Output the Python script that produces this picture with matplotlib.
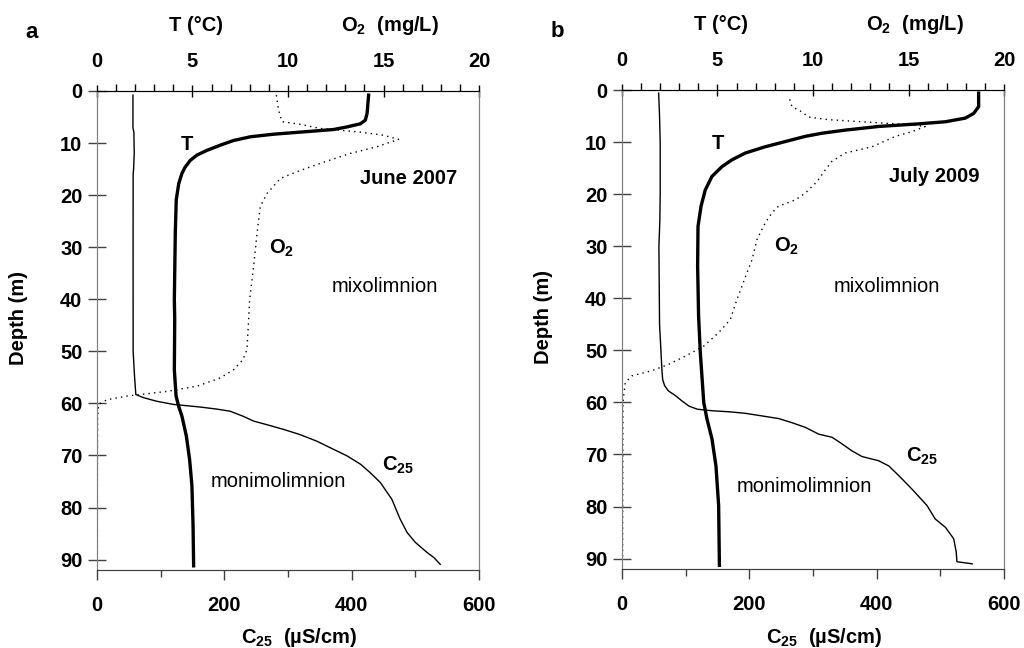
import matplotlib
matplotlib.use("Agg")
import matplotlib.pyplot as plt
from matplotlib.ticker import MultipleLocator

plt.rcParams['font.family'] = ['Liberation Sans', 'DejaVu Sans']
plt.rcParams['mathtext.fontset'] = 'custom'
plt.rcParams['mathtext.rm'] = 'Liberation Sans'
plt.rcParams['mathtext.bf'] = 'Liberation Sans:bold'
plt.rcParams['mathtext.it'] = 'Liberation Sans:italic'

# -----------------------------
# panel a : June 2007
# -----------------------------
a_c25_depth = [0.8, 7, 8, 12, 15, 16, 30, 50, 54.8, 58.3, 58.9, 59.6, 60.2, 60.7, 61.1, 61.5,
               62.5, 63.4, 64.1, 65.0, 66.0, 67.3, 68.5, 70.1, 71.7, 73.3, 75.2, 78.4, 82.2,
               84.8, 86.7, 88.6, 89.6, 90.9]
a_c25 = [56.5, 56.5, 58, 58.5, 57.5, 56.8, 56.7, 56.8, 59, 61, 73, 94, 120, 162, 188, 209,
         230, 246, 267, 293, 319, 346, 366, 393, 414, 429, 445, 463, 476,
         487, 500, 518, 529, 539]

a_t_depth = [0.8, 4.3, 5.6, 6.3, 6.9, 7.4, 7.9, 8.3, 8.8, 9.5, 10.4, 11.4, 12.3, 13.3, 14.6,
             15.8, 17.8, 20.9, 27.3, 40.1, 43.9, 53.5, 58.6, 60.6, 62.5, 66.3, 70.8, 75.8,
             83.5, 91.2]
a_t = [14.22, 14.14, 14.05, 13.79, 13.09, 12.39, 10.65, 9.25, 8.03, 7.16, 6.46, 5.76, 5.24,
       4.89, 4.62, 4.45, 4.28, 4.15, 4.10, 4.05, 4.07, 4.05, 4.14, 4.28, 4.45, 4.68, 4.85,
       4.97, 5.03, 5.06]

a_o2_depth = [0.8, 3.7, 5.9, 6.4, 7.2, 7.9, 8.5, 9.3, 10.7, 12.0, 13.9, 15.5, 16.8, 19.7,
              22.2, 27.3, 33.7, 40.1, 43.9, 49.7, 51.6, 53.5, 55.1, 56.7, 57.7, 58.6, 59.3,
              60.2, 62.5, 75, 90]
a_o2 = [9.39, 9.51, 9.69, 10.65, 11.69, 13.79, 15.0, 15.79, 14.66, 13.26, 11.69, 10.47, 9.6,
        8.9, 8.55, 8.38, 8.2, 7.99, 7.94, 7.85, 7.64, 7.16, 6.46, 5.24, 3.66, 1.57, 0.52,
        0.09, 0.03, 0.02, 0.02]

# -----------------------------
# panel b : July 2009
# -----------------------------
b_c25_depth = [0.6, 5, 10, 20, 25, 30, 45, 53.9, 55.6, 56.8, 57.8, 58.7, 59.7, 60.7, 61.3,
               61.6, 61.8, 62.1, 62.6, 63.1, 63.9, 64.8, 66.1, 66.7, 68.0, 69.3, 70.4, 71.2,
               72.2, 74.1, 76.6, 79.8, 82.4, 84.0, 86.2, 88.8, 90.6, 91.0]
b_c25 = [57.6, 59, 60, 60, 59.5, 58, 59, 62.8, 63.9, 67, 73, 84, 94, 105, 118,
         141, 168, 194, 220, 246, 267, 288, 309, 330, 346, 361, 377, 403,
         419, 435, 455, 479, 492, 508, 521, 525, 526, 550]

b_t_depth = [0.6, 3.2, 4.5, 5.4, 6.1, 6.5, 7.0, 7.7, 8.3, 8.9, 9.9, 10.9, 12.1, 13.4, 14.7,
             16.6, 19.2, 22.3, 26.2, 33.8, 43.4, 50.4, 60.0, 63.2, 67.0, 72.2, 79.8, 91.3]
b_t = [18.67, 18.67, 18.41, 17.97, 16.93, 15.53, 13.44, 11.69, 10.47, 9.6, 8.55, 7.5, 6.46,
       5.76, 5.24, 4.71, 4.36, 4.14, 3.98, 3.96, 4.01, 4.1, 4.28, 4.45, 4.71, 4.92, 5.06, 5.1]

b_o2_depth = [1.8, 3.2, 4.2, 5.2, 5.7, 6.3, 6.7, 7.0, 8.0, 8.9, 10.9, 12.1, 13.7, 15.3, 17.6,
              19.8, 21.1, 22.3, 23.6, 25.5, 28.7, 32.6, 35.1, 37.7, 40.2, 44.1, 46.6, 49.2,
              51.1, 52.7, 53.9, 54.9, 56.2, 60.0, 75, 90]
b_o2 = [8.78, 8.9, 9.42, 9.77, 10.82, 13.44, 15.18, 15.88, 15.18, 14.31, 13.09, 11.69, 10.99,
        10.65, 10.21, 9.6, 9.08, 8.2, 7.85, 7.5, 7.07, 6.81, 6.54, 6.28, 6.02, 5.67, 5.06,
        4.28, 3.32, 2.44, 1.57, 0.52, 0.17, 0.05, 0.04, 0.03]

panels = [
    dict(tag='a', month='June 2007', rect=[0.0947, 0.1204, 0.3731, 0.7392],
         c25_d=a_c25_depth, c25=a_c25, t_d=a_t_depth, t=a_t, o2_d=a_o2_depth, o2=a_o2,
         txt=dict(T=(141, 10.2), month=(490, 16.8), O2=(290, 30.2), mixo=(452, 37.6),
                  moni=(285, 75.0), C25=(473, 71.9))),
    dict(tag='b', month='July 2009', rect=[0.6074, 0.1219, 0.3731, 0.7392],
         c25_d=b_c25_depth, c25=b_c25, t_d=b_t_depth, t=b_t, o2_d=b_o2_depth, o2=b_o2,
         txt=dict(T=(151, 10.2), month=(490, 16.7), O2=(259, 30.0), mixo=(416, 37.7),
                  moni=(287, 76.2), C25=(471, 70.4))),
]

fig = plt.figure(figsize=(10.24, 6.48), dpi=100)
fs = 14.5

for p in panels:
    ax = fig.add_axes(p['rect'])
    top = ax.twiny()

    ax.plot(p['c25'], p['c25_d'], color='black', lw=1.0)
    top.plot(p['t'], p['t_d'], color='black', lw=2.4)
    top.plot(p['o2'], p['o2_d'], color='black', lw=1.0, dashes=(1.0, 3.0))

    ax.set_xlim(0, 600)
    top.set_xlim(0, 20)
    ax.set_ylim(92, 0)

    ax.xaxis.set_major_locator(MultipleLocator(200))
    ax.xaxis.set_minor_locator(MultipleLocator(100))
    ax.yaxis.set_major_locator(MultipleLocator(10))
    top.xaxis.set_major_locator(MultipleLocator(5))
    top.xaxis.set_minor_locator(MultipleLocator(1))

    ax.tick_params(axis='x', which='major', direction='out', length=7, width=1,
                   color='#404040', pad=12, labelsize=fs)
    ax.tick_params(axis='x', which='minor', direction='out', length=5, width=1,
                   color='#404040')
    ax.tick_params(axis='y', which='major', direction='inout', length=13, width=1,
                   color='#404040', pad=4, labelsize=fs)
    top.tick_params(axis='x', which='major', direction='inout', length=9, width=1,
                    color='black', pad=10, labelsize=fs)
    top.tick_params(axis='x', which='minor', direction='out', length=5, width=1,
                    color='black')
    for a_ in (ax, top):
        for lab in a_.get_xticklabels() + a_.get_yticklabels():
            lab.set_fontweight('bold')

    for s in ('left', 'right'):
        ax.spines[s].set_color('#808080')
        top.spines[s].set_color('#808080')
    ax.spines['bottom'].set_color('#404040')
    top.spines['bottom'].set_color('#404040')
    top.spines['top'].set_color('black')

    ax.set_xlabel(r'C$_\mathbf{25}$  (µS/cm)', fontsize=fs, fontweight='bold')
    ax.xaxis.set_label_coords(0.529, -0.142)
    ax.xaxis.label.set_verticalalignment('center')
    ax.set_ylabel('Depth (m)', fontsize=fs, fontweight='bold')
    ax.yaxis.set_label_coords(-0.2055, 0.526)
    ax.yaxis.label.set_verticalalignment('center')

    ax.text(-0.17, 1.123, p['tag'], transform=ax.transAxes, fontsize=16,
            fontweight='bold', ha='center', va='center')
    ax.text(0.259, 1.137, 'T (°C)', transform=ax.transAxes, fontsize=fs,
            fontweight='bold', ha='center', va='center')
    ax.text(0.768, 1.137, r'O$_\mathbf{2}$  (mg/L)', transform=ax.transAxes, fontsize=fs,
            fontweight='bold', ha='center', va='center')

    tx = p['txt']
    ax.text(*tx['T'], 'T', fontsize=fs, fontweight='bold', ha='center', va='center')
    ax.text(*tx['month'], p['month'], fontsize=fs, fontweight='bold', ha='center', va='center')
    ax.text(*tx['O2'], r'O$_\mathbf{2}$', fontsize=fs, fontweight='bold', ha='center', va='center')
    ax.text(*tx['mixo'], 'mixolimnion', fontsize=fs, ha='center', va='center')
    ax.text(*tx['moni'], 'monimolimnion', fontsize=fs, ha='center', va='center')
    ax.text(*tx['C25'], r'C$_\mathbf{25}$', fontsize=fs, fontweight='bold', ha='center', va='center')

fig.savefig('out.png', dpi=100)
